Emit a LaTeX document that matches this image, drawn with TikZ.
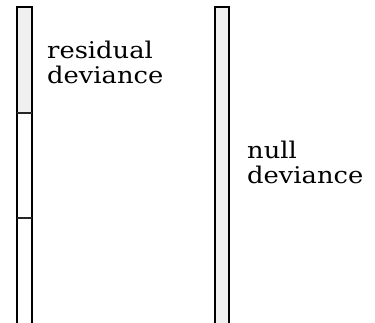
\documentclass[tikz,border=0pt]{standalone}
\usepackage{fontspec}
\setmainfont[FakeStretch=1.12]{DejaVu Serif}
\definecolor{barfill}{HTML}{F0F0F0}
\begin{document}
\begin{tikzpicture}[x=1pt,y=-1pt,
  barline/.style={draw=black,line width=1.5pt},
  sep/.style={draw=black!85,line width=2pt},
  lbl/.style={inner sep=0pt,anchor=base west,align=left,font=\fontsize{23}{25}\selectfont}]
\useasboundingbox (0,0) rectangle (375,323);
% left bar
\fill[barfill] (17,7) rectangle (32,113);
\draw[barline] (17,325) -- (17,7) -- (32,7) -- (32,325);
\coordinate (s1l) at (17,113); \coordinate (s1r) at (32,113);
\coordinate (s2l) at (17,218); \coordinate (s2r) at (32,218);
\draw[sep] (s1l) -- (s1r);
\draw[sep] (s2l) -- (s2r);
% right bar
\fill[barfill] (215,7) rectangle (229,325);
\draw[barline] (215,325) -- (215,7) -- (229,7) -- (229,325);
% labels
\node[lbl] (res) at (47,84) {residual\\deviance};
\node[lbl] (nul) at (247,184) {null\\deviance};
\end{tikzpicture}
\end{document}
